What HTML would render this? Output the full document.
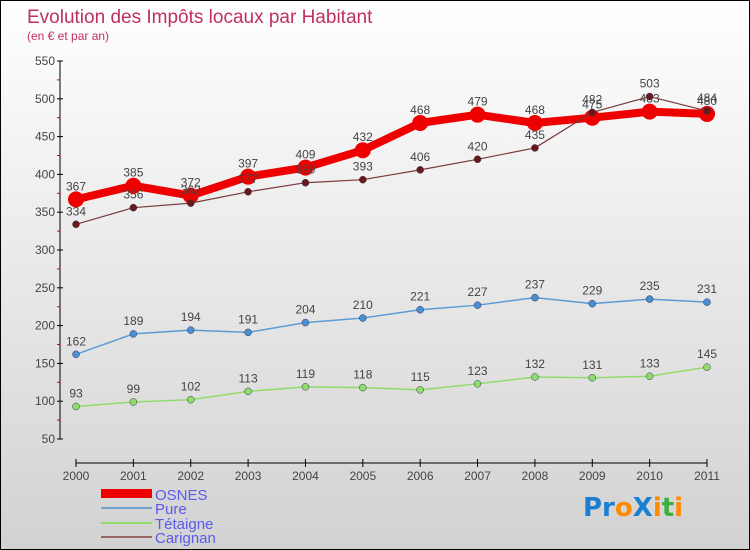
<!DOCTYPE html>
<html><head><meta charset="utf-8"><style>
body{margin:0}
#c{position:relative;width:748px;height:548px;border:1px solid #000;background:linear-gradient(#ffffff,#d2d2d2);overflow:hidden;font-family:"Liberation Sans",sans-serif}
</style></head><body>
<div id="c">
<svg id="s" width="748" height="548">
<text x="26" y="22" font-size="19" fill="#c0305e">Evolution des Impôts locaux par Habitant</text>
<text x="26" y="39" font-size="12" fill="#c0305e">(en € et par an)</text>
<g id="axes"></g><g id="series"></g>
<g>
<rect x="100" y="488" width="51" height="9" fill="#e00"/>
<text x="154" y="499" font-size="15" fill="#5a5aee">OSNES</text>
<line x1="100" y1="507" x2="151" y2="507" stroke="#6fa4d2" stroke-width="2"/>
<text x="154" y="513" font-size="15" fill="#5a5aee">Pure</text>
<line x1="100" y1="522" x2="151" y2="522" stroke="#8fdc6a" stroke-width="2"/>
<text x="154" y="528" font-size="15" fill="#5a5aee">Tétaigne</text>
<line x1="100" y1="536" x2="151" y2="536" stroke="#996666" stroke-width="2"/>
<text x="154" y="542" font-size="15" fill="#5a5aee">Carignan</text>
</g>
<g font-size="26" font-weight="bold" font-family="'DejaVu Sans',sans-serif">
<text x="582" y="515"><tspan fill="#1a7fd0">Pr</tspan><tspan fill="#ff8a00">o</tspan><tspan fill="#1a7fd0">X</tspan><tspan fill="#ff8a00">i</tspan><tspan fill="#3cb043">t</tspan><tspan fill="#ff8a00">i</tspan></text>
</g>
</svg></div>
<script>
const years=[2000,2001,2002,2003,2004,2005,2006,2007,2008,2009,2010,2011];
const yTicks=[50,100,150,200,250,300,350,400,450,500,550];
const osnes=[367,385,372,397,409,432,468,479,468,475,483,480];
const pure=[162,189,194,191,204,210,221,227,237,229,235,231];
const tetaigne=[93,99,102,113,119,118,115,123,132,131,133,145];
const carignan=[334,356,362,377,389,393,406,420,435,482,503,484];
const NS="http://www.w3.org/2000/svg";
function X(i){return 75+i*(706-75)/11;}
function Y(v){return 438-(v-50)*(378/500);}
function mk(t,a,p){const e=document.createElementNS(NS,t);for(const k in a)e.setAttribute(k,a[k]);p.appendChild(e);return e;}
const ax=document.getElementById('axes');
mk('line',{x1:59,y1:Y(550),x2:59,y2:Y(50),stroke:'#000'},ax);
yTicks.forEach((v,i)=>{
  const l=mk('line',{x1:56,y1:Y(v),x2:62,y2:Y(v),stroke:'#000'},ax);
  
  
  const t=mk('text',{x:54,y:Y(v)+4,'font-size':12,fill:'#444','text-anchor':'end'},ax);t.textContent=v;
  
  
  if(i<yTicks.length-1)mk('line',{x1:56,y1:Y(v+25),x2:59,y2:Y(v+25),stroke:'#d00'},ax);
});
mk('line',{x1:75,y1:462,x2:706,y2:462,stroke:'#000'},ax);
years.forEach((y,i)=>{
  mk('line',{x1:X(i),y1:458,x2:X(i),y2:466,stroke:'#000'},ax);
  const t=mk('text',{x:X(i),y:479,'font-size':12,fill:'#444','text-anchor':'middle'},ax);t.textContent=y;
  
  
});
const sg=document.getElementById('series');
function draw(name,vals,col,w,r,dot){
  const g=mk('g',{},sg);
  
  
  mk('polyline',{points:vals.map((v,i)=>X(i)+','+Y(v)).join(' '),fill:'none',stroke:col,'stroke-width':w,'stroke-linejoin':'round'},g);
  vals.forEach((v,i)=>{
    const c=mk('circle',{cx:X(i),cy:Y(v),r:r,fill:dot,stroke:r>5?'none':'#335',"stroke-width":0.5},g);
    
    
    const t=mk('text',{x:X(i),y:Y(v)-9,'font-size':12,fill:'#444','text-anchor':'middle'},g);t.textContent=v;
    
    
  });
}
draw('tetaigne',tetaigne,'#8fdc6a',1.5,3.5,'#8fdc6a');
draw('pure',pure,'#5b9bd5',1.5,3.5,'#4a8fd0');
draw('osnes',osnes,'#ee0000',8,8,'#ee0000');
draw('carignan',carignan,'#7a3a3a',1.2,3.5,'#6a1818');
</script>
</body></html>
